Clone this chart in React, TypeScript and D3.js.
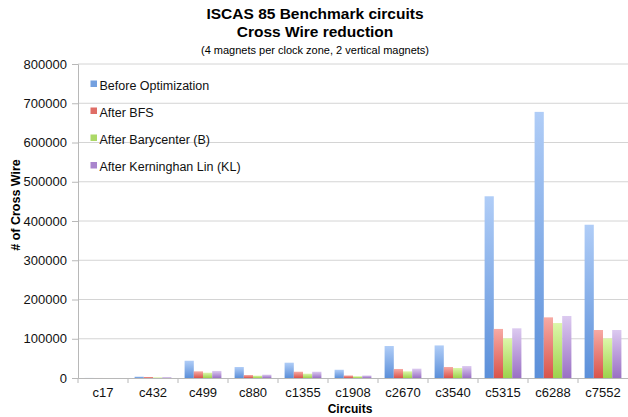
import React, { useEffect, useRef } from 'react';
import * as d3 from 'd3';

const circuits = ['c17', 'c432', 'c499', 'c880', 'c1355', 'c1908', 'c2670', 'c3540', 'c5315', 'c6288', 'c7552'];
const seriesNames = ['Before Optimization', 'After BFS', 'After Barycenter (B)', 'After Kerninghan Lin (KL)'];
const beforeOpt = [200, 3500, 44000, 28000, 39000, 21000, 81500, 83000, 463000, 678000, 390500];
const afterBFS = [60, 2500, 17000, 7600, 16000, 6500, 23000, 28000, 125000, 154500, 122300];
const afterB = [40, 1500, 13500, 6000, 11000, 4500, 17000, 25500, 101000, 140000, 101000];
const afterKL = [50, 2000, 18000, 8500, 16000, 6500, 23800, 30500, 126600, 158000, 122300];
const yTicks = [0, 100000, 200000, 300000, 400000, 500000, 600000, 700000, 800000];

const gradStops = [
  ['#b0cdf7', '#5b8fd9'],
  ['#f7aaa4', '#d9544b'],
  ['#ddf7aa', '#9dd24c'],
  ['#dccaf0', '#9a70c4'],
];

const App: React.FC = () => {
  const ref = useRef<SVGSVGElement>(null);

  useEffect(() => {
    if (!ref.current) return;
    const svg = d3.select(ref.current);
    svg.selectAll('*').remove();

    const all = [beforeOpt, afterBFS, afterB, afterKL];
    const left = 78, right = 628, top = 64, bottom = 378;
    const font = 'Liberation Sans, Arial, sans-serif';

    const defs = svg.append('defs');
    gradStops.forEach((c, i) => {
      const g = defs.append('linearGradient').attr('id', `g${i}`)
        .attr('x1', 0).attr('y1', 0).attr('x2', 0).attr('y2', 1);
      g.append('stop').attr('offset', '0%').attr('stop-color', c[0]);
      g.append('stop').attr('offset', '100%').attr('stop-color', c[1]);
    });

    const x0 = d3.scaleBand<string>().domain(circuits).range([left, right]);
    const x1 = d3.scaleBand<string>().domain(seriesNames).range([6.6, x0.bandwidth() - 6.6]);
    const y = d3.scaleLinear().domain([0, 800000]).range([bottom, top]);

    // grid
    svg.append('g').selectAll('line').data(yTicks.slice(1)).join('line')
      .attr('x1', left).attr('x2', right)
      .attr('y1', d => y(d)).attr('y2', d => y(d))
      .attr('stroke', '#d4d4d4').attr('stroke-width', 1);

    // y axis
    const ya = svg.append('g').attr('transform', `translate(${left},0)`)
      .call(d3.axisLeft(y).tickValues(yTicks).tickFormat(d3.format('d')).tickSize(6).tickPadding(5));
    ya.select('.domain').attr('stroke', '#b8b8b8');
    ya.selectAll('.tick line').attr('stroke', '#b8b8b8');
    ya.selectAll('text').attr('font-family', font).attr('font-size', 13).attr('fill', '#111');

    // bars
    circuits.forEach((c, ci) => {
      const g = svg.append('g').attr('transform', `translate(${x0(c)},0)`);
      all.forEach((s, si) => {
        const v = s[ci];
        g.append('rect')
          .attr('x', x1(seriesNames[si])!)
          .attr('y', y(v))
          .attr('width', x1.bandwidth())
          .attr('height', Math.max(0, bottom - y(v)))
          .attr('fill', `url(#g${si})`);
      });
    });

    // x axis
    const xa = svg.append('g').attr('transform', `translate(0,${bottom})`)
      .call(d3.axisBottom(x0).tickSize(0).tickPadding(10));
    xa.select('.domain').attr('stroke', '#b8b8b8');
    xa.selectAll('text').attr('font-family', font).attr('font-size', 13).attr('fill', '#111');
    svg.append('g').selectAll('line').data(circuits).join('line')
      .attr('x1', d => x0(d)!).attr('x2', d => x0(d)!)
      .attr('y1', bottom).attr('y2', bottom + 5)
      .attr('stroke', '#b8b8b8');

    // titles
    svg.append('text').attr('x', 315).attr('y', 19).attr('text-anchor', 'middle')
      .attr('font-family', font).attr('font-weight', 'bold').attr('font-size', 15.5).text('ISCAS 85 Benchmark circuits');
    svg.append('text').attr('x', 315).attr('y', 37).attr('text-anchor', 'middle')
      .attr('font-family', font).attr('font-weight', 'bold').attr('font-size', 15.5).text('Cross Wire reduction');
    svg.append('text').attr('x', 315).attr('y', 54).attr('text-anchor', 'middle')
      .attr('font-family', font).attr('font-size', 11).text('(4 magnets per clock zone, 2 vertical magnets)');

    svg.append('text').attr('x', 350).attr('y', 413).attr('text-anchor', 'middle')
      .attr('font-family', font).attr('font-weight', 'bold').attr('font-size', 12).text('Circuits');
    svg.append('text').attr('transform', 'translate(19.5,205) rotate(-90)').attr('text-anchor', 'middle')
      .attr('font-family', font).attr('font-weight', 'bold').attr('font-size', 12.5).text('# of Cross Wire');

    // legend
    const legendY = [85, 112, 139, 166.5];
    seriesNames.forEach((n, i) => {
      svg.append('rect').attr('x', 90.5).attr('y', legendY[i] - 4.5).attr('width', 6.5).attr('height', 6.5)
        .attr('fill', gradStops[i][1]).attr('opacity', 0.85);
      svg.append('text').attr('x', 99.5).attr('y', legendY[i] + 4.5)
        .attr('font-family', font).attr('font-size', 12.5).attr('fill', '#111').text(n);
    });
  }, []);

  return (
    <svg ref={ref} width={628} height={417}
      style={{ position: 'absolute', left: 0, top: 0, background: '#fff' }} />
  );
};

export default App;
